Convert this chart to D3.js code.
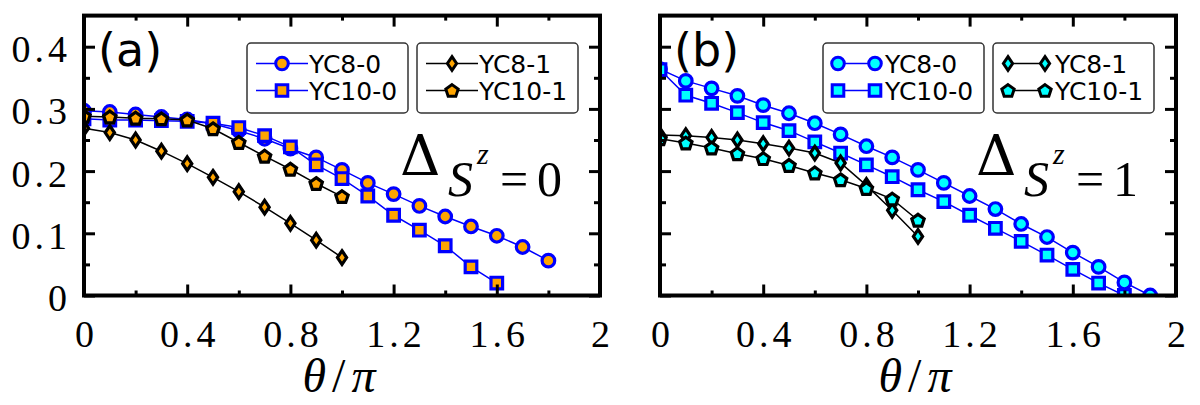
<!DOCTYPE html>
<html>
<head>
<meta charset="utf-8">
<script src="https://cdn.jsdelivr.net/npm/d3@7"></script>
<style>
body { margin: 0; background: #fff; }
svg { display: block; }
.tick text { font-family: "Liberation Serif", serif; font-size: 38px; letter-spacing: 4px; fill: #000; }
.legend text { font-family: "DejaVu Sans", sans-serif; font-size: 25px; fill: #000; }
</style>
</head>
<body>
<svg width="1200" height="405"></svg>
<script>
// theta/pi grid shared by all series (each series uses the first n entries)
var theta = [0, 0.1, 0.2, 0.3, 0.4, 0.5, 0.6, 0.7, 0.8, 0.9, 1.0,
             1.1, 1.2, 1.3, 1.4, 1.5, 1.6, 1.7, 1.8, 1.9];

// panel (a): Delta S^z = 0
var yc8_0_a  = [0.297, 0.295, 0.291, 0.287, 0.283, 0.276, 0.265, 0.252, 0.236, 0.222,
                0.202, 0.181, 0.163, 0.144, 0.127, 0.111, 0.096, 0.078, 0.056];
var yc10_0_a = [0.284, 0.282, 0.282, 0.281, 0.280, 0.277, 0.270, 0.257, 0.239, 0.210,
                0.188, 0.160, 0.129, 0.105, 0.080, 0.046, 0.020];
var yc8_1_a  = [0.269, 0.262, 0.250, 0.232, 0.212, 0.190, 0.167, 0.142, 0.116, 0.089, 0.061];
var yc10_1_a = [0.288, 0.287, 0.285, 0.284, 0.282, 0.268, 0.246, 0.224, 0.203, 0.180, 0.159];

// panel (b): Delta S^z = 1
var yc8_0_b  = [0.364, 0.345, 0.333, 0.321, 0.306, 0.293, 0.277, 0.259, 0.240, 0.222,
                0.202, 0.181, 0.160, 0.139, 0.115, 0.094, 0.069, 0.046, 0.021, 0.0];
var yc10_0_b = [0.363, 0.322, 0.309, 0.294, 0.278, 0.265, 0.247, 0.229, 0.210, 0.191,
                0.170, 0.151, 0.129, 0.108, 0.087, 0.065, 0.042, 0.020, 0.0];
var yc8_1_b  = [0.258, 0.257, 0.254, 0.250, 0.244, 0.237, 0.229, 0.213, 0.177, 0.137, 0.095];
var yc10_1_b = [0.252, 0.245, 0.237, 0.228, 0.220, 0.209, 0.197, 0.186, 0.172, 0.155, 0.121];

var seriesNames = ['YC8-0', 'YC10-0', 'YC8-1', 'YC10-1'];

var xMajor = [0, 0.4, 0.8, 1.2, 1.6, 2];
var xMinor = [0.2, 0.6, 1.0, 1.4, 1.8];
var xTickLabels = ['0', '0.4', '0.8', '1.2', '1.6', '2'];
var yMajor = [0, 0.1, 0.2, 0.3, 0.4];
var yMinor = [0.05, 0.15, 0.25, 0.35];
var yTickLabels = ['0', '0.1', '0.2', '0.3', '0.4'];

var svg = d3.select('svg');

// layout
var plotTop = 15.6, plotBottom = 295.5, plotW = 516;
var panels = [
    {left: 84,  tag: '(a)', sub: '0', fill: '#ffa500', yLabels: true,  legendDouble: false,
     data: [yc8_0_a, yc10_0_a, yc8_1_a, yc10_1_a]},
    {left: 660, tag: '(b)', sub: '1', fill: '#00ffff', yLabels: false, legendDouble: true,
     data: [yc8_0_b, yc10_0_b, yc8_1_b, yc10_1_b]}
];

var lineColor = ['#0000ff', '#0000ff', '#000', '#000'];
var shapes = ['circle', 'square', 'diamond', 'pentagon'];

// marker outline paths, centred on 0,0
function shapePath(kind) {
    var p = d3.path();
    if (kind == 'circle') {
        p.arc(0, 0, 6.3, 0, 2 * Math.PI);
    } else if (kind == 'square') {
        p.rect(-5.8, -5.8, 11.6, 11.6);
    } else if (kind == 'diamond') {
        p.moveTo(0, -6.8); p.lineTo(4.6, 0); p.lineTo(0, 6.8); p.lineTo(-4.6, 0); p.closePath();
    } else {
        for (var k = 0; k < 5; k++) {
            var a = -Math.PI / 2 + k * 2 * Math.PI / 5;
            var px = 6.5 * Math.cos(a), py = 6.5 * Math.sin(a) + 0.6;
            if (k == 0) p.moveTo(px, py); else p.lineTo(px, py);
        }
        p.closePath();
    }
    return p.toString();
}

panels.forEach(function(pan, pi) {
    var xScale = d3.scaleLinear().domain([0, 2]).range([pan.left, pan.left + plotW]);
    var yScale = d3.scaleLinear().domain([0, 0.45]).range([plotBottom, plotTop]);
    var g = svg.append('g').attr('class', 'panel');

    var clipId = 'clip' + pi;
    svg.append('clipPath').attr('id', clipId)
        .append('rect')
        .attr('x', pan.left).attr('y', plotTop)
        .attr('width', plotW).attr('height', plotBottom - plotTop);

    // data
    var plot = g.append('g').attr('clip-path', 'url(#' + clipId + ')');
    var line = d3.line()
        .x(function(d) { return xScale(d[0]); })
        .y(function(d) { return yScale(d[1]); });

    pan.data.forEach(function(vals, si) {
        var pts = vals.map(function(v, i) { return [theta[i], v]; });
        var sg = plot.append('g').attr('class', 'series');
        sg.append('path')
            .datum(pts)
            .attr('d', line)
            .attr('fill', 'none')
            .attr('stroke', lineColor[si])
            .attr('stroke-width', 1.5);
        sg.selectAll('.mark')
            .data(pts)
            .enter()
            .append('path')
            .attr('class', 'mark')
            .attr('d', shapePath(shapes[si]))
            .attr('transform', function(d) { return 'translate(' + [xScale(d[0]), yScale(d[1])] + ')'; })
            .attr('fill', pan.fill)
            .attr('stroke', lineColor[si])
            .attr('stroke-width', 3.2)
            .attr('stroke-miterlimit', 10);
    });

    // axes (ticks point inward on all four sides)
    function styleAxis(sel) {
        sel.select('.domain').remove();
        sel.selectAll('.tick line').attr('stroke', '#000').attr('stroke-width', 3);
    }
    var xAxisMajor = d3.axisBottom(xScale).tickValues(xMajor).tickSizeInner(-11).tickSizeOuter(0)
        .tickPadding(25).tickFormat(function(d, i) { return xTickLabels[i]; });
    var xb = g.append('g').attr('transform', 'translate(0,' + plotBottom + ')').call(xAxisMajor).call(styleAxis);
    xb.selectAll('text').attr('dx', 2);
    g.append('g').attr('transform', 'translate(0,' + plotBottom + ')')
        .call(d3.axisBottom(xScale).tickValues(xMinor).tickSizeInner(-5).tickSizeOuter(0).tickFormat(''))
        .call(styleAxis);
    g.append('g').attr('transform', 'translate(0,' + plotTop + ')')
        .call(d3.axisTop(xScale).tickValues(xMajor).tickSizeInner(-11).tickSizeOuter(0).tickFormat(''))
        .call(styleAxis);
    g.append('g').attr('transform', 'translate(0,' + plotTop + ')')
        .call(d3.axisTop(xScale).tickValues(xMinor).tickSizeInner(-5).tickSizeOuter(0).tickFormat(''))
        .call(styleAxis);

    var yAxisMajor = d3.axisLeft(yScale).tickValues(yMajor).tickSizeInner(-11).tickSizeOuter(0)
        .tickPadding(13).tickFormat(function(d, i) { return pan.yLabels ? yTickLabels[i] : ''; });
    var yl = g.append('g').attr('transform', 'translate(' + pan.left + ',0)').call(yAxisMajor).call(styleAxis);
    yl.selectAll('text').attr('dy', 15);
    g.append('g').attr('transform', 'translate(' + pan.left + ',0)')
        .call(d3.axisLeft(yScale).tickValues(yMinor).tickSizeInner(-6).tickSizeOuter(0).tickFormat(''))
        .call(styleAxis);
    g.append('g').attr('transform', 'translate(' + (pan.left + plotW) + ',0)')
        .call(d3.axisRight(yScale).tickValues(yMajor).tickSizeInner(-11).tickSizeOuter(0).tickFormat(''))
        .call(styleAxis);
    g.append('g').attr('transform', 'translate(' + (pan.left + plotW) + ',0)')
        .call(d3.axisRight(yScale).tickValues(yMinor).tickSizeInner(-6).tickSizeOuter(0).tickFormat(''))
        .call(styleAxis);

    // frame
    g.append('rect')
        .attr('x', pan.left).attr('y', plotTop)
        .attr('width', plotW).attr('height', plotBottom - plotTop)
        .attr('fill', 'none').attr('stroke', '#000').attr('stroke-width', 4);

    // panel tag
    g.append('text')
        .attr('x', pan.left + 14).attr('y', 66)
        .style('font-family', '"DejaVu Sans", sans-serif')
        .style('font-size', '46px')
        .text(pan.tag);

    // Delta_{S^z = n}
    var dx = pan.left + 316;
    var serif = '"Liberation Serif", serif';
    g.append('text').attr('x', dx).attr('y', 175)
        .style('font-family', '"DejaVu Serif", serif').style('font-size', '56px').text('\u0394');
    g.append('text').attr('x', dx + 48).attr('y', 196)
        .style('font-family', serif).style('font-size', '50px').style('font-style', 'italic').text('S');
    g.append('text').attr('x', dx + 77).attr('y', 164)
        .style('font-family', serif).style('font-size', '30px').style('font-style', 'italic').text('z');
    g.append('text').attr('x', dx + 100).attr('y', 196)
        .style('font-family', serif).style('font-size', '50px').text('=');
    g.append('text').attr('x', dx + 137).attr('y', 196)
        .style('font-family', serif).style('font-size', '50px').text(pan.sub);

    // x axis title
    var xt = g.append('text')
        .attr('x', pan.left + plotW / 2).attr('y', 392)
        .attr('text-anchor', 'middle')
        .style('font-family', serif).style('font-size', '48px').style('letter-spacing', '6px');
    xt.append('tspan').style('font-style', 'italic').text('\u03b8');
    xt.append('tspan').text('/');
    xt.append('tspan').style('font-style', 'italic').text('\u03c0');

    // legends: two boxes, two rows each
    var boxes = [{x: pan.left + 163, names: [0, 1]}, {x: pan.left + 333, names: [2, 3]}];
    boxes.forEach(function(b) {
        var lg = g.append('g').attr('class', 'legend');
        lg.append('rect')
            .attr('x', b.x).attr('y', 43)
            .attr('width', 161).attr('height', 70)
            .attr('rx', 4)
            .attr('fill', '#fff').attr('stroke', '#333').attr('stroke-width', 1.5);
        b.names.forEach(function(si, row) {
            var ly = 63.5 + row * 27;
            var x1 = b.x + 9, x2 = b.x + 61;
            if (pan.legendDouble) { x1 = b.x + 15; x2 = b.x + 52; }
            lg.append('line')
                .attr('x1', x1).attr('x2', x2).attr('y1', ly).attr('y2', ly)
                .attr('stroke', lineColor[si]).attr('stroke-width', 1.5);
            var mk = pan.legendDouble ? [x1, x2] : [(x1 + x2) / 2];
            mk.forEach(function(mx) {
                lg.append('path')
                    .attr('d', shapePath(shapes[si]))
                    .attr('transform', 'translate(' + [mx, ly] + ')')
                    .attr('fill', pan.fill)
                    .attr('stroke', lineColor[si])
                    .attr('stroke-width', 3);
            });
            lg.append('text')
                .attr('x', b.x + 62)
                .attr('y', ly + 9.5)
                .text(seriesNames[si]);
        });
    });
});
</script>
</body>
</html>
